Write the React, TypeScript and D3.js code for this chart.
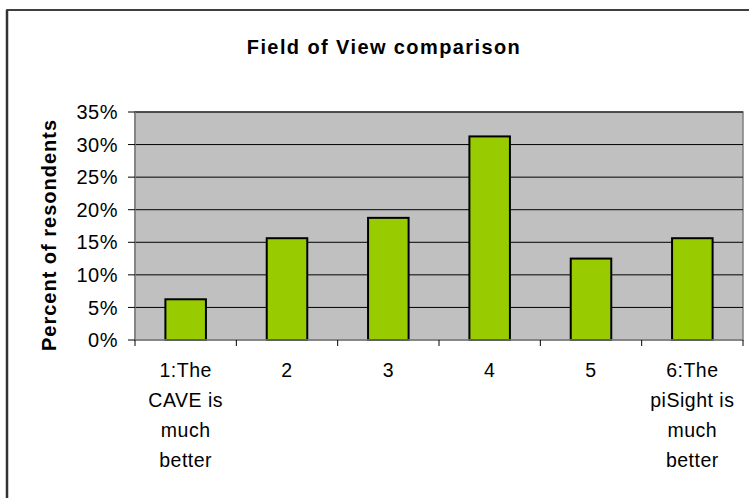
import React from "react";
import * as d3 from "d3";

const categories = ["1", "2", "3", "4", "5", "6"];
const categoryLabels: string[][] = [
  ["1:The", "CAVE is", "much", "better"],
  ["2"],
  ["3"],
  ["4"],
  ["5"],
  ["6:The", "piSight is", "much", "better"],
];
const values = [0.0625, 0.15625, 0.1875, 0.3125, 0.125, 0.15625];
const yTicks = [0, 0.05, 0.1, 0.15, 0.2, 0.25, 0.3, 0.35];
const title = "Field of View comparison";
const yTitle = "Percent of resondents";

const W = 749;
const H = 498;
const plot = { left: 135, right: 743, top: 112, bottom: 340 };
const FONT = "Arial, 'Liberation Sans', sans-serif";

export default function App() {
  const x = d3
    .scaleBand<string>()
    .domain(categories)
    .range([plot.left, plot.right])
    .paddingInner(0.6)
    .paddingOuter(0.3);
  const step = (plot.right - plot.left) / categories.length;
  const y = d3.scaleLinear().domain([0, 0.35]).range([plot.bottom, plot.top]);
  const fmt = d3.format(".0%");

  return (
    <svg
      width={W}
      height={H}
      style={{ position: "absolute", left: 0, top: 0, background: "#fff" }}
    >
      <rect x={7} y={10} width={900} height={700} fill="#fff" stroke="#000" strokeWidth={1.5} />
      <line x1={7} y1={10} x2={7} y2={H} stroke="#333" strokeWidth={2.5} />
      <text
        x={384}
        y={54}
        textAnchor="middle"
        fontFamily={FONT}
        fontWeight="bold"
        fontSize={20}
        letterSpacing={1.4}
      >
        {title}
      </text>
      <rect
        x={plot.left}
        y={plot.top}
        width={plot.right - plot.left}
        height={plot.bottom - plot.top}
        fill="#C0C0C0"
        stroke="#808080"
        strokeWidth={1.5}
      />
      {yTicks.slice(1).map((t) => (
        <line key={"g" + t} x1={plot.left} x2={plot.right} y1={y(t)} y2={y(t)} stroke="#000" strokeWidth={1} />
      ))}
      {values.map((v, i) => (
        <rect
          key={"b" + i}
          x={x(categories[i])}
          y={y(v)}
          width={x.bandwidth()}
          height={plot.bottom - y(v)}
          fill="#99CC00"
          stroke="#000"
          strokeWidth={2}
        />
      ))}
      <line x1={plot.left} x2={plot.right} y1={plot.bottom} y2={plot.bottom} stroke="#808080" strokeWidth={1.5} />
      <line x1={plot.left} x2={plot.left} y1={plot.top} y2={plot.bottom} stroke="#808080" strokeWidth={1.5} />
      {yTicks.map((t) => (
        <g key={"t" + t}>
          <line x1={plot.left - 7} x2={plot.left} y1={y(t)} y2={y(t)} stroke="#000" strokeWidth={1} />
          <text
            x={118}
            y={y(t)}
            dy="0.36em"
            textAnchor="end"
            fontFamily={FONT}
            fontSize={20}
            letterSpacing={0.5}
          >
            {fmt(t)}
          </text>
        </g>
      ))}
      {d3.range(categories.length + 1).map((k) => (
        <line
          key={"xt" + k}
          x1={plot.left + k * step}
          x2={plot.left + k * step}
          y1={plot.bottom}
          y2={plot.bottom + 6}
          stroke="#000"
          strokeWidth={1}
        />
      ))}
      {categoryLabels.map((lines, i) => (
        <text
          key={"c" + i}
          textAnchor="middle"
          fontFamily={FONT}
          fontSize={19.5}
          letterSpacing={0.5}
        >
          {lines.map((ln, j) => (
            <tspan key={j} x={(x(categories[i]) as number) + x.bandwidth() / 2} y={377 + j * 30}>
              {ln}
            </tspan>
          ))}
        </text>
      ))}
      <text
        transform={`translate(56,235) rotate(-90)`}
        textAnchor="middle"
        fontFamily={FONT}
        fontWeight="bold"
        fontSize={20}
        letterSpacing={1}
      >
        {yTitle}
      </text>
    </svg>
  );
}
